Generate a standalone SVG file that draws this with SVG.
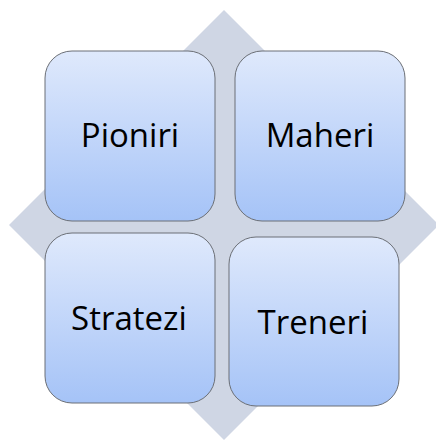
<svg xmlns="http://www.w3.org/2000/svg" width="436" height="441" viewBox="0 0 436 441">
<defs>
<linearGradient id="g" x1="0" y1="0" x2="0" y2="1">
<stop offset="0" stop-color="#dfe9fc"/>
<stop offset="1" stop-color="#a5c3f7"/>
</linearGradient>
<style>
.box{fill:url(#g);stroke:#6b6f76;stroke-width:1}
.t{font-family:"Open Sans",Lato,"Liberation Sans",sans-serif;font-size:33px;fill:#000;text-anchor:middle}
</style>
</defs>
<rect width="436" height="441" fill="#fff"/>
<polygon id="diamond" points="224,10 439,225 224,440 9,225" fill="#cfd6e4"/>
<g id="pioniri"><rect class="box" x="45" y="51" width="170" height="170" rx="27"/><text class="t" x="130" y="147">Pioniri</text></g>
<g id="maheri"><rect class="box" x="235" y="51" width="170" height="170" rx="27"/><text class="t" x="320" y="147">Maheri</text></g>
<g id="stratezi"><rect class="box" x="45" y="233" width="170" height="170" rx="27"/><text class="t" x="129" y="330">Stratezi</text></g>
<g id="treneri"><rect class="box" x="229" y="237" width="170" height="169" rx="27"/><text class="t" x="313" y="334">Treneri</text></g>
<g id="connectors"/>
</svg>
